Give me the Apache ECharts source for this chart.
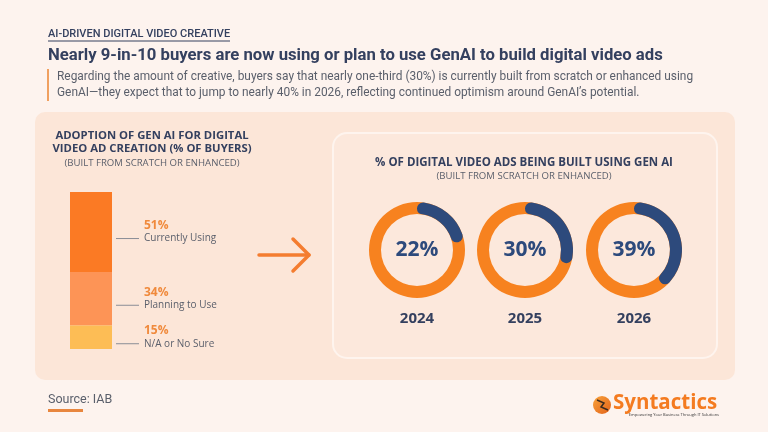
<!DOCTYPE html>
<html>
<head>
<meta charset="utf-8">
<script src="https://cdn.jsdelivr.net/npm/echarts@6/dist/echarts.min.js"></script>
<style>
  html, body { margin: 0; padding: 0; background: #fdf3ee; }
  #main { width: 768px; height: 432px; }
</style>
</head>
<body>
<div id="main"></div>
<script>
// data
const adoptionLabels = ['Currently Using', 'Planning to Use', 'N/A or No Sure']
const adoptionValues = [51, 34, 15]
const years = ['2024', '2025', '2026']
const genAiShare = [22, 30, 39]

const navy = '#2d4a7c'
const ringOrange = '#f7821f'
const barColors = ['#fb7a24', '#fd9456', '#fdbd55']
const donutX = [417, 525, 634]
const donutY = 250
const textNavy = '#34405f'
const gray = '#5a5f6b'

const chart = echarts.init(document.getElementById('main'))

// stacked adoption bar
const barSeries = adoptionLabels.map((name, i) => ({
  type: 'bar',
  name: name,
  stack: 'adoption',
  barWidth: '100%',
  silent: true,
  data: [adoptionValues[i]],
  itemStyle: { color: barColors[i] },
  label: {
    show: true,
    position: 'right',
    distance: 4,
    formatter: p => `{gap|}{v|${p.value}%}\n{ln|}{sp|}{n|${p.seriesName}}`,
    rich: {
      gap: { width: 28 },
      v: { fontFamily: 'Open Sans', fontSize: 12, fontWeight: 'bold', color: '#f08a3c', lineHeight: 13 },
      ln: { width: 23, height: 1, backgroundColor: '#8a8d96' },
      sp: { width: 5 },
      n: { fontFamily: 'Open Sans', fontSize: 10, color: gray, lineHeight: 13 }
    }
  }
}))

// donuts: full orange ring underneath, navy share on top
const ringSeries = []
years.forEach((y, i) => {
  ringSeries.push({
    type: 'pie',
    silent: true,
    center: [donutX[i], donutY],
    radius: [36, 48],
    label: { show: false },
    labelLine: { show: false },
    data: [{ value: 100, itemStyle: { color: ringOrange } }],
    z: 2
  })
  ringSeries.push({
    type: 'pie',
    silent: true,
    center: [donutX[i], donutY],
    radius: [36, 48],
    startAngle: 90,
    clockwise: true,
    avoidLabelOverlap: false,
    labelLine: { show: false },
    label: { show: false },
    z: 3,
    data: [
      {
        value: genAiShare[i],
        name: y,
        itemStyle: { color: navy, borderRadius: 6 },
        label: {
          show: true,
          position: 'center',
          formatter: '{c}%',
          fontFamily: 'Open Sans',
          fontSize: 21,
          fontWeight: 'bold',
          color: navy
        }
      },
      { value: 100 - genAiShare[i], itemStyle: { color: 'rgba(0,0,0,0)' } }
    ]
  })
})

const txt = (text, x, y, font, fill, align) => ({
  type: 'text',
  z: 10,
  style: { text, x, y, font, fill, textAlign: align || 'left', textVerticalAlign: 'middle' }
})

const graphics = [
  // panels
  { type: 'rect', z: -10, shape: { x: 35, y: 112, width: 700, height: 268, r: 10 }, style: { fill: '#fce6d8' } },
  { type: 'rect', z: -9, shape: { x: 333, y: 133, width: 384, height: 225, r: 14 }, style: { fill: '#fce8dc', stroke: '#fef4ee', lineWidth: 2 } },
  // header
  txt('AI-DRIVEN DIGITAL VIDEO CREATIVE', 48, 34, '500 11px Roboto', textNavy),
  { type: 'line', z: 10, shape: { x1: 48, y1: 41, x2: 230, y2: 41 }, style: { stroke: textNavy, lineWidth: 1 } },
  txt('Nearly 9-in-10 buyers are now using or plan to use GenAI to build digital video ads', 48, 56, 'bold 16.7px Roboto', textNavy),
  { type: 'rect', z: 10, shape: { x: 47, y: 69, width: 2, height: 32 }, style: { fill: '#f0a060' } },
  txt('Regarding the amount of creative, buyers say that nearly one-third (30%) is currently built from scratch or enhanced using', 57, 77, '11.9px Roboto', gray),
  txt('GenAI\u2014they expect that to jump to nearly 40% in 2026, reflecting continued optimism around GenAI\u2019s potential.', 57, 93, '11.9px Roboto', gray),
  // left chart title
  txt('ADOPTION OF GEN AI FOR DIGITAL', 152, 136, 'bold 11.3px "Open Sans"', textNavy, 'center'),
  txt('VIDEO AD CREATION (% OF BUYERS)', 152, 149, 'bold 11.3px "Open Sans"', textNavy, 'center'),
  txt('(BUILT FROM SCRATCH OR ENHANCED)', 152, 163, '9.6px "Open Sans"', gray, 'center'),
  // arrow
  { type: 'polyline', z: 10, shape: { points: [[259, 255], [309, 255]] }, style: { stroke: '#f47d30', lineWidth: 3.5, lineCap: 'round' } },
  { type: 'polyline', z: 10, shape: { points: [[293, 239], [309, 255], [293, 271]] }, style: { stroke: '#f47d30', lineWidth: 3.5, lineCap: 'round', lineJoin: 'round', fill: null } },
  // right chart title
  txt('% OF DIGITAL VIDEO ADS BEING BUILT USING GEN AI', 524, 163, 'bold 11.5px "Open Sans"', textNavy, 'center'),
  txt('(BUILT FROM SCRATCH OR ENHANCED)', 524, 176, '9.6px "Open Sans"', gray, 'center'),
  // footer
  txt('Source: IAB', 48, 400, '12.5px Roboto', gray),
  { type: 'rect', z: 10, shape: { x: 48, y: 409, width: 35, height: 3 }, style: { fill: '#e8863e' } },
  // logo
  {
    type: 'circle', z: 10, shape: { cx: 602, cy: 405, r: 9 },
    style: { fill: new echarts.graphic.LinearGradient(0, 0, 1, 1, [{ offset: 0, color: '#f9a23a' }, { offset: 1, color: '#e2621a' }]) }
  },
  { type: 'polyline', z: 11, shape: { points: [[597, 400], [604, 403], [601, 407], [608, 410]] }, style: { stroke: '#3a2a20', lineWidth: 1.5, fill: null } },
  txt('Syntactics', 613, 403, 'bold 20.5px "Open Sans"', '#f47b20'),
  txt('Empowering Your Business Through IT Solutions', 719, 415, '4px "Open Sans"', '#333', 'right')
]

years.forEach((y, i) => {
  graphics.push(txt(y, donutX[i], 319, 'bold 15px "Open Sans"', textNavy, 'center'))
})

chart.setOption({
  backgroundColor: '#fdf3ee',
  animation: false,
  grid: { left: 70, top: 192, width: 42, height: 157 },
  xAxis: { type: 'category', data: ['buyers'], show: false },
  yAxis: { type: 'value', min: 0, max: 100, inverse: true, show: false },
  graphic: graphics,
  series: barSeries.concat(ringSeries)
})

window.addEventListener('resize', () => chart.resize())
</script>
</body>
</html>
